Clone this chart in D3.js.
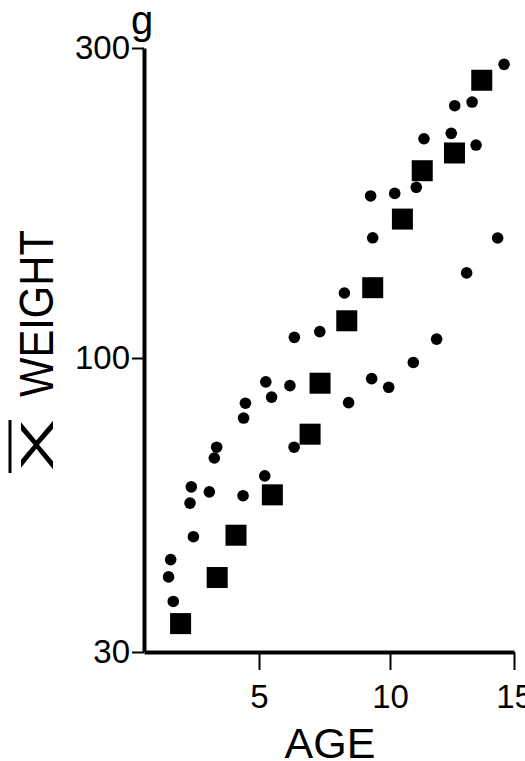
<!doctype html>
<html lang="en">
<head>
<meta charset="UTF-8">
<title>Mean weight by age</title>
<script src="https://d3js.org/d3.v7.min.js"></script>
<style>
body { margin: 0; background-color: #ffffff; }
svg { display: block; }
.axis path { fill: none; stroke: #000; stroke-width: 4; }
.axis line { stroke: #000; stroke-width: 2; }
.axis text { font-family: "Liberation Sans", Arial, sans-serif; font-size: 33px; fill: #000; }
.label { font-family: "Liberation Sans", Arial, sans-serif; fill: #000; }
</style>
</head>
<body>
<div id="plot"></div>
<script>

// individual fish (dots)
var dotAge = [6.35, 7.32, 5.26, 5.48, 6.18, 4.48, 4.41, 3.38, 3.29, 6.34,
	5.22, 2.41, 3.10, 4.39, 2.36, 2.49, 1.62, 1.54, 1.72, 11.88,
	10.94, 9.30, 9.95, 8.42, 14.6, 13.31, 12.61, 12.47, 11.37, 13.47,
	11.06, 10.19, 9.26, 9.34, 14.34, 13.09, 8.26];
var dotWeight = [107.6, 109.8, 90.7, 85.2, 89.3, 83.1, 78.2, 69.4, 66.4, 69.4,
	61.7, 59.0, 57.8, 56.9, 55.2, 48.1, 43.8, 40.8, 36.9, 106.9,
	98.2, 91.9, 88.7, 83.3, 283.1, 247.7, 244.5, 221.7, 217.5, 212.7,
	183.1, 179.2, 177.6, 153.1, 153.0, 135.2, 125.9];

// means (squares)
var meanAge = [2.0, 3.4, 4.12, 5.51, 6.95, 7.33, 8.35, 9.34, 10.5, 11.3, 12.6, 13.7];
var meanWeight = [33.7, 40.7, 48.4, 57.1, 73.2, 90.2, 114.1, 128.3, 163.6, 194.2, 206.8, 267.6];

var xTicks = [5, 10, 15];
var yTicks = [30, 100, 300];

var width = 525;
var height = 761;

var svg = d3.select("#plot").append("svg")
	.attr("width", width)
	.attr("height", height);

// the printed axes are not quite even, so both scales are piecewise
var xScale = d3.scaleLinear()
	.domain([0.6, 5, 10, 15])
	.range([144, 259, 390, 514]);

var yScale = d3.scaleLog()
	.domain([30, 100, 300])
	.range([652, 358, 48]);

var xAxis = d3.axisBottom(xScale)
	.tickValues(xTicks)
	.tickSize(18)
	.tickSizeOuter(0)
	.tickPadding(15)
	.tickFormat(d3.format("d"));

svg.append("g")
	.attr("class", "axis")
	.attr("transform", "translate(0, " + yScale(30) + ")")
	.call(xAxis)
	.attr("font-family", null)
	.attr("font-size", null);

var yAxis = d3.axisLeft(yScale)
	.tickValues(yTicks)
	.tickSize(12)
	.tickSizeOuter(0)
	.tickPadding(2)
	.tickFormat(d3.format("d"));

svg.append("g")
	.attr("class", "axis")
	.attr("transform", "translate(" + xScale(0.6) + ", 0)")
	.call(yAxis)
	.attr("font-family", null)
	.attr("font-size", null);

dotAge.forEach(function (a, i) {
	svg.append("circle")
	.attr("cx", xScale(a))
	.attr("cy", yScale(dotWeight[i]))
	.attr("r", 5.8)
	.style("fill", "#000");
});

var side = 21;
meanAge.forEach(function (a, i) {
	svg.append("rect")
	.attr("x", xScale(a) - side / 2)
	.attr("y", yScale(meanWeight[i]) - side / 2)
	.attr("width", side)
	.attr("height", side)
	.style("fill", "#000");
});

// unit
svg.append("text")
	.attr("class", "label")
	.attr("x", 131)
	.attr("y", 34)
	.style("font-size", "40px")
	.text("g");

svg.append("text")
	.attr("class", "label")
	.attr("x", 330)
	.attr("y", 758)
	.attr("text-anchor", "middle")
	.style("font-size", "43px")
	.text("AGE");

svg.append("text")
	.attr("class", "label")
	.attr("transform", "translate(53, 397) rotate(-90)")
	.attr("textLength", 167)
	.attr("lengthAdjust", "spacingAndGlyphs")
	.style("font-size", "48px")
	.text("WEIGHT");

svg.append("text")
	.attr("class", "label")
	.attr("transform", "translate(53, 471) rotate(-90)")
	.attr("textLength", 52)
	.attr("lengthAdjust", "spacingAndGlyphs")
	.style("font-size", "47px")
	.text("X");

// bar over the X (mean)
svg.append("line")
	.attr("x1", 10).attr("x2", 10)
	.attr("y1", 420).attr("y2", 473)
	.style("stroke", "#000")
	.style("stroke-width", 3);

</script>
</body>
</html>
